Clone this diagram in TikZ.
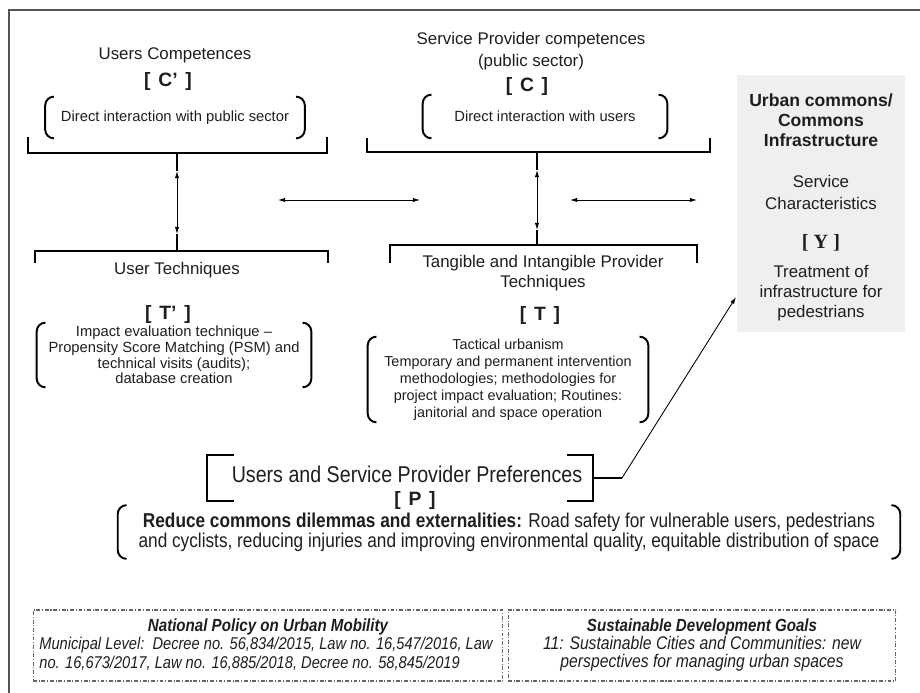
\documentclass[tikz,border=0pt]{standalone}
\usepackage{fontspec}
\setmainfont{Liberation Sans}
\newfontfamily\narrowfont[FakeStretch=0.86]{Liberation Sans}
\newfontfamily\yfont{Liberation Serif}
\usetikzlibrary{arrows.meta, positioning}
\definecolor{boxGray}{HTML}{EFEFEF}
\definecolor{frameGray}{HTML}{555555}
\definecolor{dashGray}{HTML}{666666}
\definecolor{inkDark}{HTML}{1E1E1E}

% round brackets on both sides of a node
\newcommand\parens[1]{%
  \draw[paren] ([xshift=5pt]#1.north west) -- (#1.north west) -- (#1.south west) -- ([xshift=5pt]#1.south west);%
  \draw[paren] ([xshift=-5pt]#1.north east) -- (#1.north east) -- (#1.south east) -- ([xshift=-5pt]#1.south east);%
}
% bracketed symbol, wide gaps
\newcommand\symb[1]{[\hspace{0.4em}#1\hspace{0.4em}]}

\begin{document}
\begin{tikzpicture}[x=0.02cm, y=-0.02cm,
    headtxt/.style={align=center, inner sep=0pt, text=inkDark,
                    font=\fontsize{9.6}{12.5}\selectfont},
    symtxt/.style={inner sep=0pt, text=inkDark, font=\bfseries\fontsize{11}{12}\selectfont},
    pgrp/.style={align=center, inner sep=0pt, text=inkDark,
                 font=\fontsize{8.4}{9}\selectfont},
    brk/.style={draw=black, line width=1.1pt},
    paren/.style={draw=black, line width=1.1pt, rounded corners=5pt},
    link/.style={line width=0.5pt, {Latex[length=4pt,width=2.4pt]}-{Latex[length=4pt,width=2.4pt]}},
    onelink/.style={line width=0.5pt, -{Latex[length=4pt,width=2.4pt]}},
    ucbox/.style={fill=boxGray, inner sep=0pt},
    dashbox/.style={draw=dashGray, line width=0.6pt,
                    dash pattern=on 2.2pt off 1pt on 0.6pt off 1pt},
    notetxt/.style={inner sep=0pt, text=inkDark,
                    font=\narrowfont\itshape\fontsize{10.4}{10.4}\selectfont},
  ]
  \useasboundingbox (0,0) rectangle (920,693);
  \draw[frameGray, line width=1pt] (9,693) -- (9,10) -- (920,10);

  % users competences
  \node[headtxt] (uc) at (175,55) {Users Competences};
  \node[symtxt] (ucsym) at (168,82) {\symb{C’}};
  \node[pgrp, minimum width=5.18cm, minimum height=0.82cm] (ucpar) at (175,117.5)
    {Direct interaction with public sector};
  \parens{ucpar}
  \draw[brk] (28,137) |- (327,153) -- (327,137);
  \draw[brk] (177,153) -- (177,171) coordinate (ucstem);

  % provider competences
  \node[headtxt] (pc) at (531,51) {Service Provider competences\\(public sector)};
  \node[symtxt] (pcsym) at (527,87) {\symb{C}};
  \node[pgrp, minimum width=4.88cm, minimum height=0.86cm] (pcpar) at (545,116.5)
    {Direct interaction with users};
  \parens{pcpar}
  \draw[brk] (367,138) |- (710,152) -- (710,138);
  \draw[brk] (537,152) -- (537,170) coordinate (pcstem);

  % user techniques
  \draw[brk] (35,263) |- (328,251) -- (328,263);
  \draw[brk] (177,251) -- (177,234) coordinate (utstem);
  \node[headtxt] (ut) at (177,270) {User Techniques};
  \node[symtxt] (utsym) at (168,314) {\symb{T’}};
  \node[pgrp, minimum width=5.48cm, minimum height=1.28cm] (utpar) at (174,355)
    {Impact evaluation technique --\\Propensity Score Matching (PSM) and\\technical visits (audits);\\database creation};
  \parens{utpar}

  % provider techniques
  \draw[brk] (390,263) |- (697,245) -- (697,263);
  \draw[brk] (537,245) -- (537,230) coordinate (ptstem);
  \node[headtxt, font=\fontsize{9.6}{11.4}\selectfont] (pt) at (543,273)
    {Tangible and Intangible Provider\\Techniques};
  \node[symtxt] (ptsym) at (540,315) {\symb{T}};
  \node[pgrp, font=\fontsize{8.2}{9.7}\selectfont, minimum width=5.6cm, minimum height=1.7cm]
    (ptpar) at (508,379.5)
    {Tactical urbanism\\Temporary and permanent intervention\\methodologies; methodologies for\\project impact evaluation; Routines:\\janitorial and space operation};
  \parens{ptpar}

  % links between blocks
  \draw[link] (ucstem) -- (utstem);
  \draw[link] (pcstem) -- (ptstem);
  \coordinate (hl1) at (278,200);
  \coordinate (hr1) at (420,200);
  \coordinate (hl2) at (570,200);
  \coordinate (hr2) at (697,200);
  \draw[link] (hl1) -- (hr1);
  \draw[link] (hl2) -- (hr2);

  % urban commons box
  \node[ucbox, minimum width=3.36cm, minimum height=5.14cm] (ucb) at (821,203.5) {};
  \node[headtxt, font=\bfseries\fontsize{10}{11.4}\selectfont] (ucbt) at (821,120)
    {Urban commons/\\Commons\\Infrastructure};
  \node[headtxt, font=\fontsize{9.6}{12}\selectfont] (ucbs) at (821,192.5)
    {Service\\Characteristics};
  \node[inner sep=0pt, text=inkDark, font=\yfont\bfseries\fontsize{11.5}{12}\selectfont]
    (ucbsym) at (821,243) {[ Y ]};
  \node[headtxt, font=\fontsize{9.6}{11.4}\selectfont] (ucbx) at (821,293)
    {Treatment of\\infrastructure for\\pedestrians};

  % preferences
  \node[headtxt, font=\narrowfont\fontsize{13}{13}\selectfont] (pref) at (407,474)
    {Users and Service Provider Preferences};
  \node[symtxt] (prefsym) at (415,500) {\symb{P}};
  \draw[brk] (234,455) -| (207,501) -- (234,501);
  \draw[brk] (567,455) -| (593,501) -- (567,501);
  \draw[brk] (593,478) -- (622,478) coordinate (prefknee);
  \coordinate (ucbin) at (736,297);
  \draw[onelink] (prefknee) -- (ucbin);
  \node[pgrp, font=\narrowfont\fontsize{11.4}{11.4}\selectfont, minimum width=15.64cm, minimum height=1.06cm]
    (prefpar) at (509,532)
    {\textbf{Reduce commons dilemmas and externalities:} Road safety for vulnerable users, pedestrians\\
     and cyclists, reducing injuries and improving environmental quality, equitable distribution of space};
  \parens{prefpar}

  % policy frames
  \node[dashbox, minimum width=9.4cm, minimum height=1.42cm] (npum) at (268,645.5) {};
  \node[notetxt, font=\narrowfont\bfseries\itshape\fontsize{10}{10}\selectfont] (npumt) at (268,627)
    {National Policy on Urban Mobility};
  \node[notetxt, align=left, anchor=west, font=\narrowfont\itshape\fontsize{9.7}{10.4}\selectfont]
    (npumx) at (39,654)
    {Municipal Level:\ \ Decree no. 56,834/2015, Law no. 16,547/2016, Law\\
     no. 16,673/2017, Law no. 16,885/2018, Decree no. 58,845/2019};
  \node[dashbox, minimum width=7.76cm, minimum height=1.42cm] (sdg) at (702,645.5) {};
  \node[notetxt, font=\narrowfont\bfseries\itshape\fontsize{10}{10}\selectfont] (sdgt) at (702,627)
    {Sustainable Development Goals};
  \node[notetxt, align=center] (sdgx) at (702,654)
    {11: Sustainable Cities and Communities: new\\perspectives for managing urban spaces};
\end{tikzpicture}
\end{document}
